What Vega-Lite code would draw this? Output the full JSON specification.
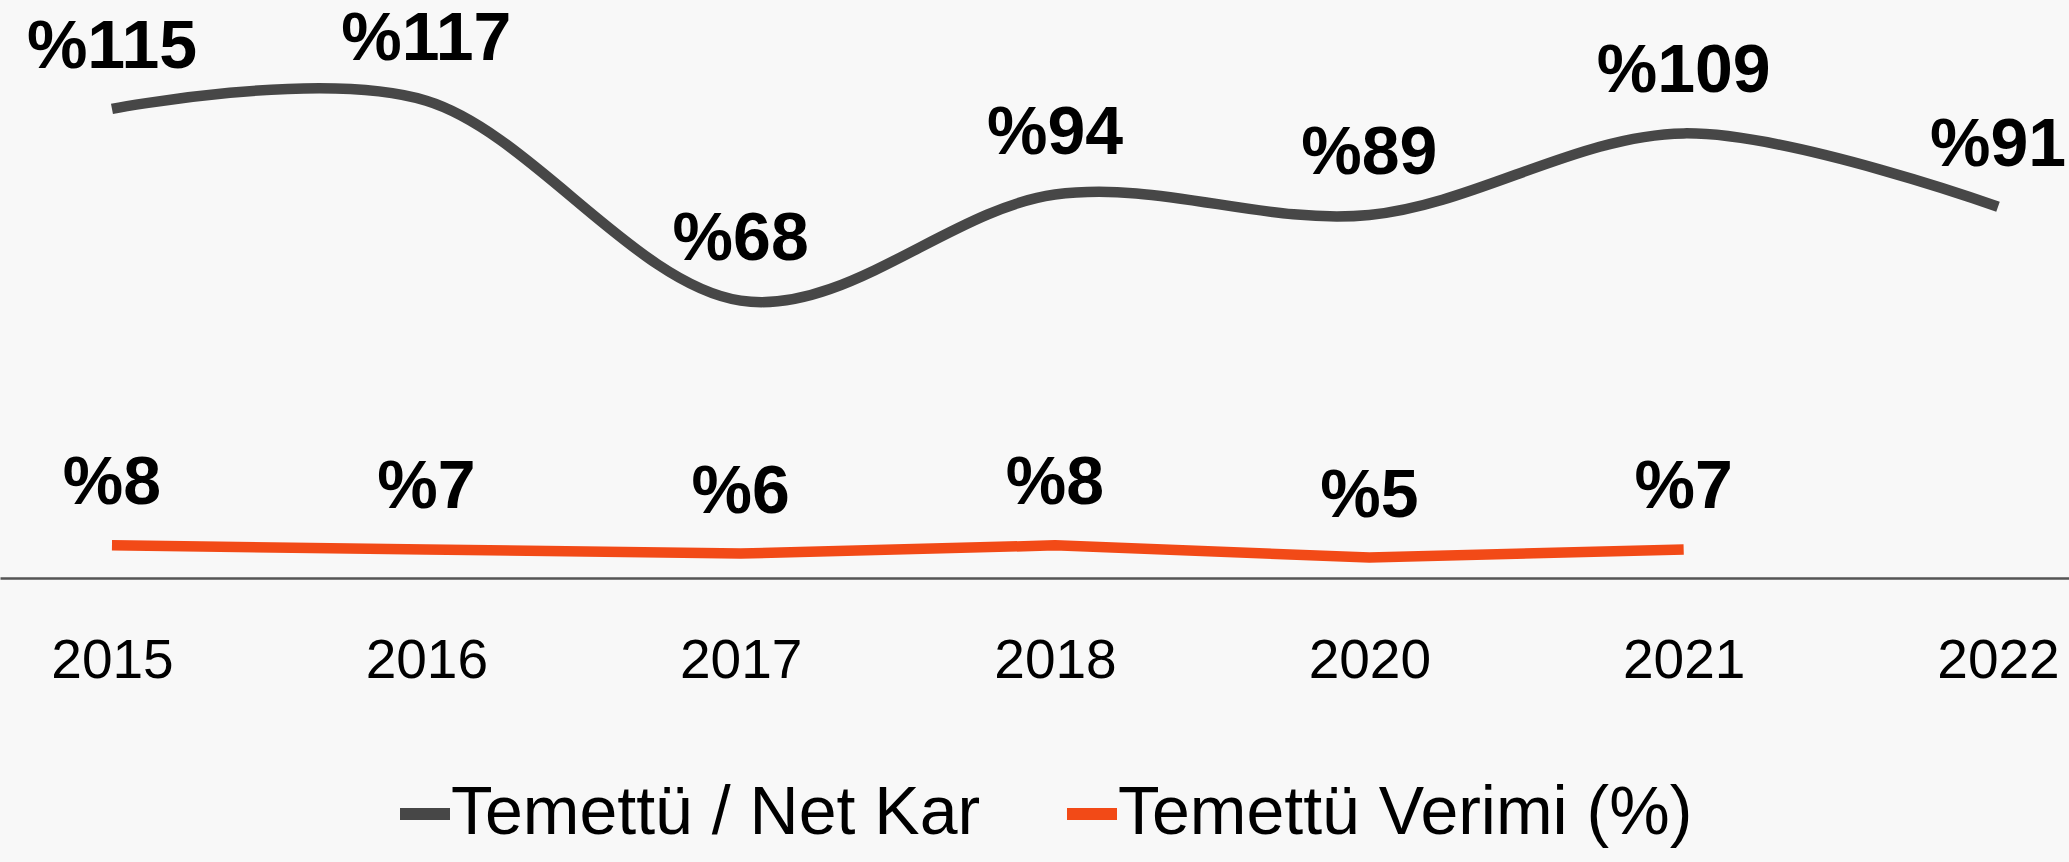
{
  "$schema": "https://vega.github.io/schema/vega-lite/v6.json",
  "autosize": {"type": "none"},
  "padding": {"left": 0, "top": 0, "right": 0, "bottom": 284},
  "width": 2069,
  "height": 578,
  "background": "#f8f8f8",
  "config": {
    "view": {"stroke": null},
    "font": "Liberation Sans, Arial, sans-serif"
  },
  "data": {
    "values": [
      {"year": "2015", "series": "Temettü / Net Kar", "value": 115, "label": "%115"},
      {"year": "2016", "series": "Temettü / Net Kar", "value": 117, "label": "%117"},
      {"year": "2017", "series": "Temettü / Net Kar", "value": 68, "label": "%68"},
      {"year": "2018", "series": "Temettü / Net Kar", "value": 94, "label": "%94"},
      {"year": "2020", "series": "Temettü / Net Kar", "value": 89, "label": "%89"},
      {"year": "2021", "series": "Temettü / Net Kar", "value": 109, "label": "%109"},
      {"year": "2022", "series": "Temettü / Net Kar", "value": 91, "label": "%91"},
      {"year": "2015", "series": "Temettü Verimi (%)", "value": 8, "label": "%8"},
      {"year": "2016", "series": "Temettü Verimi (%)", "value": 7, "label": "%7"},
      {"year": "2017", "series": "Temettü Verimi (%)", "value": 6, "label": "%6"},
      {"year": "2018", "series": "Temettü Verimi (%)", "value": 8, "label": "%8"},
      {"year": "2020", "series": "Temettü Verimi (%)", "value": 5, "label": "%5"},
      {"year": "2021", "series": "Temettü Verimi (%)", "value": 7, "label": "%7"}
    ]
  },
  "encoding": {
    "x": {
      "field": "year",
      "type": "ordinal",
      "scale": {"type": "point", "padding": 0.291, "align": 0.612},
      "axis": {
        "title": null,
        "orient": "bottom",
        "labelAngle": 0,
        "ticks": false,
        "tickSize": 0,
        "labelPadding": 56,
        "labelFontSize": 55,
        "labelFont": "Liberation Sans, Arial, sans-serif",
        "labelColor": "#000000",
        "domainColor": "#555555",
        "domainWidth": 2.5,
        "grid": false
      }
    },
    "y": {
      "field": "value",
      "type": "quantitative",
      "scale": {"domain": [0, 141.7], "nice": false, "zero": true},
      "axis": null
    }
  },
  "layer": [
    {
      "transform": [{"filter": "datum.series === 'Temettü / Net Kar'"}],
      "mark": {"type": "line", "interpolate": "cardinal", "tension": 0, "strokeWidth": 10.5, "strokeCap": "butt"},
      "encoding": {
        "color": {
          "field": "series",
          "type": "nominal",
          "scale": {"domain": ["Temettü / Net Kar", "Temettü Verimi (%)"], "range": ["#474747", "#F24A17"]},
          "legend": {
            "title": null,
            "orient": "none",
            "legendX": 391,
            "legendY": 780,
            "direction": "horizontal",
            "padding": 0,
            "symbolType": "stroke",
            "symbolSize": 2500,
            "symbolStrokeWidth": 12,
            "labelFontSize": 68,
            "labelFont": "Liberation Sans, Arial, sans-serif",
            "labelColor": "#000000",
            "labelOffset": -8,
            "columnPadding": 62,
            "labelLimit": 1000
          }
        }
      }
    },
    {
      "transform": [{"filter": "datum.series === 'Temettü Verimi (%)'"}],
      "mark": {"type": "line", "interpolate": "linear", "strokeWidth": 10.5, "strokeCap": "butt"},
      "encoding": {
        "color": {"field": "series", "type": "nominal"}
      }
    },
    {
      "mark": {
        "type": "text",
        "dy": -61,
        "align": "center",
        "baseline": "middle",
        "fontSize": 68,
        "fontWeight": "bold",
        "font": "Liberation Sans, Arial, sans-serif",
        "color": "#000000"
      },
      "encoding": {
        "text": {"field": "label", "type": "nominal"}
      }
    }
  ]
}
